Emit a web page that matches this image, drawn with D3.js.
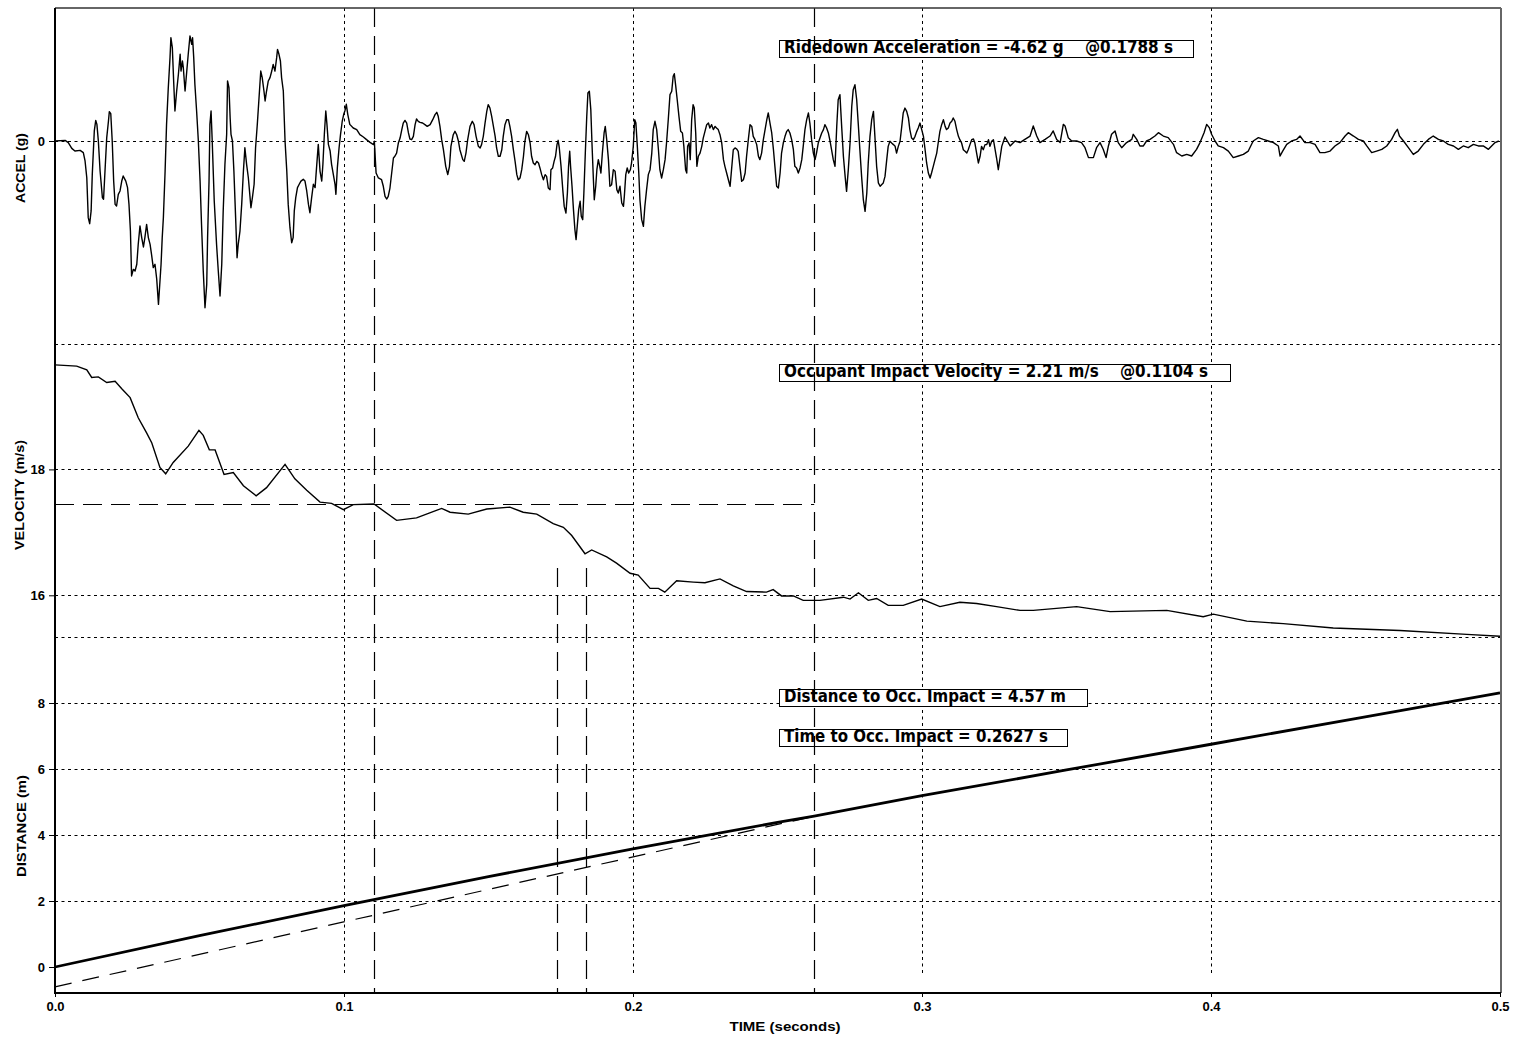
<!DOCTYPE html>
<html>
<head>
<meta charset="utf-8">
<script src="https://cdn.jsdelivr.net/npm/d3@7"></script>
<style>
  body { margin: 0; background: #fff; }
  svg { display: block; }
  text { font-family: "Liberation Sans", Arial, sans-serif; font-weight: bold; fill: #000; }
  .note { font-family: "Liberation Sans Narrow", "DejaVu Sans Condensed", "Liberation Sans", sans-serif; white-space: pre; }
</style>
</head>
<body>
<svg id="chart" width="1518" height="1037"></svg>
<script>
// ---- axis ticks and grid values ----
const timeTicks = [0, 0.1, 0.2, 0.3, 0.4, 0.5];
const timeGrid = [0.1, 0.2, 0.3, 0.4];
const accelGrid = [0];
const accelLabels = [0];
const velocityGrid = [20, 18, 16];
const velocityLabels = [18, 16];
const distanceGrid = [10, 8, 6, 4, 2];
const distanceLabels = [8, 6, 4, 2, 0];

// ---- computed results shown in the boxes ----
const ridedownAccel = -4.62;   // g
const ridedownTime = 0.1788;   // s (centre of 10 ms window)
const ridedownWindow = 0.010;  // s
const impactVelocity = 2.21;   // m/s
const impactVelocityTime = 0.1104; // s
const impactDistance = 4.57;   // m
const impactTime = 0.2627;     // s
const flailOffset = -0.6;      // m

// ---- vehicle acceleration, [time ms, g] ----
const accelTrace = [
[0,0],[3.5,0.05],[4.6,-0.12],[5.8,-0.55],[6.9,-0.75],[8.7,-0.70],[9.8,-0.87],[10.4,-1.49],[11.0,-2.74],[11.5,-5.72],[12.0,-6.17],[12.5,-5.22],[12.9,-2.49],[13.6,0.75],[14.1,1.54],[14.5,1.24],[15.0,0],[15.6,-2.24],[16.4,-4.23],[16.8,-4.35],[17.3,-2.24],[17.9,0.25],[18.5,1.49],[18.8,2.19],[19.3,2.04],[19.8,0],[20.3,-2.99],[20.8,-4.73],[21.3,-4.85],[21.9,-3.98],[22.5,-3.73],[23.1,-2.99],[23.6,-2.61],[24.5,-2.99],[25.1,-3.48],[25.6,-4.73],[26.1,-6.72],[26.5,-10.07],[27.1,-9.58],[27.7,-9.70],[28.3,-9.20],[28.8,-7.71],[29.4,-6.34],[30.0,-7.21],[30.6,-7.91],[31.1,-7.21],[31.7,-6.22],[32.3,-7.21],[32.9,-7.71],[33.4,-8.46],[34.0,-9.45],[34.6,-9.20],[35.2,-10.32],[35.8,-12.19],[36.1,-11.19],[36.7,-9.20],[37.1,-7.21],[37.5,-5.72],[38.1,-2.24],[38.6,1.24],[39.2,3.98],[39.8,6.22],[40.1,7.71],[40.6,6.97],[41.1,4.23],[41.5,2.24],[42.1,3.73],[42.7,4.98],[43.3,6.47],[43.6,5.22],[44.1,5.97],[44.4,5.47],[45.0,3.73],[45.6,5.22],[46.1,6.47],[46.7,7.84],[47.3,7.21],[47.6,7.71],[48.0,6.22],[48.4,4.23],[49.0,2.24],[49.6,0],[50.2,-2.99],[50.7,-6.22],[51.3,-9.70],[51.9,-12.44],[52.5,-10.70],[52.8,-7.21],[53.3,-2.99],[53.6,1.24],[54.0,2.24],[54.4,0],[55.1,-4.48],[55.9,-7.71],[56.5,-9.70],[57.1,-11.57],[57.7,-9.20],[58.2,-5.22],[58.8,-1.74],[59.4,0.50],[59.7,4.48],[60.2,3.98],[60.6,1.74],[60.9,0.50],[61.4,0],[61.9,-2.24],[62.5,-5.72],[63.0,-8.71],[63.4,-7.71],[64.0,-6.72],[64.6,-4.73],[65.2,-2.24],[65.7,-0.50],[66.3,-1.74],[66.9,-2.74],[67.5,-4.23],[67.8,-4.98],[68.3,-4.23],[68.9,-3.23],[69.4,-0.50],[70.0,1.24],[70.6,3.23],[71.2,5.22],[71.7,4.73],[72.3,3.73],[72.7,2.99],[73.2,3.73],[73.8,4.48],[74.4,4.73],[75.0,5.22],[75.5,5.72],[76.1,5.22],[76.7,6.22],[77.0,6.84],[77.5,6.47],[78.0,5.97],[78.4,4.73],[79.0,3.73],[79.6,0],[80.2,-2.24],[80.7,-4.73],[81.3,-6.47],[81.9,-7.59],[82.4,-7.21],[82.8,-5.22],[83.3,-4.23],[83.9,-3.48],[84.5,-3.23],[85.1,-2.99],[85.9,-2.86],[86.5,-2.99],[87.1,-3.73],[87.7,-4.73],[88.2,-5.35],[88.8,-4.23],[89.4,-3.23],[90.0,-3.48],[90.5,-1.99],[91.1,-0.25],[91.7,-2.24],[92.3,-2.99],[92.7,-1.74],[93.2,0.50],[93.7,2.24],[94.1,1.24],[94.6,-0.25],[95.2,-0.75],[95.7,-1.74],[96.3,-2.49],[96.9,-3.23],[97.2,-3.98],[97.7,-1.99],[98.3,-0.50],[98.8,0.50],[99.4,1.49],[99.9,1.99],[100.3,2.24],[100.8,2.74],[101.3,1.99],[102.0,1.24],
[103.2,0.97],[104.4,0.85],[105.5,0.47],[106.7,0.30],[107.8,0.10],[109.0,-0.10],[110.2,-0.27],[110.5,-0.02],[111.1,-2.39],[111.9,-2.76],[113.0,-2.89],[113.6,-3.38],[114.2,-4.13],[114.8,-4.33],[115.3,-4.13],[115.9,-3.51],[116.5,-2.39],[117.1,-1.27],[117.6,-1.14],[118.2,-0.90],[118.8,-0.15],[119.4,0.22],[120.0,0.85],[120.5,1.34],[121.1,1.54],[121.7,1.34],[122.3,0.60],[122.8,0.15],[123.4,0.10],[124.0,0.35],[124.6,1.22],[125.1,1.64],[125.7,1.47],[126.3,1.39],[127.2,1.34],[128.0,1.22],[128.8,1.09],[129.8,1.22],[130.7,1.59],[131.5,1.97],[132.1,2.14],[132.6,1.84],[133.2,1.09],[133.8,0.10],[134.4,-0.65],[135.2,-1.89],[135.9,-2.51],[136.5,-1.89],[137.0,-0.40],[137.8,0.47],[138.4,0.72],[139.0,0.47],[139.6,-0.02],[140.1,-0.65],[141.1,-1.39],[141.6,-1.52],[142.2,-0.90],[142.8,0.10],[143.6,1.09],[144.4,1.47],[145.0,1.22],[145.7,0.35],[146.5,-0.40],[147.1,-0.52],[147.6,-0.27],[148.2,0.35],[148.8,1.34],[149.4,2.21],[149.9,2.71],[150.5,2.46],[151.1,1.84],[151.7,1.09],[152.3,0.35],[152.8,-0.52],[153.4,-1.14],[154.0,-1.14],[154.6,-0.65],[155.1,0.35],[155.7,1.22],[156.3,1.59],[156.9,1.59],[157.4,1.09],[158.0,0.35],[158.6,-0.65],[159.2,-1.52],[159.8,-2.51],[160.3,-2.89],[160.9,-2.76],[161.5,-2.14],[162.1,-1.14],[162.6,-0.02],[163.2,0.72],[163.8,0.47],[164.4,-0.15],[164.9,-1.14],[165.5,-1.64],[166.1,-1.77],[166.7,-1.52],[167.3,-1.64],[167.8,-2.01],[168.4,-2.51],[169.0,-2.89],[169.6,-2.51],[170.1,-2.64],[170.7,-3.51],[171.3,-3.63],[171.6,-2.14],[172.2,-2.01],[172.7,-1.52],[173.2,-1.14],[173.7,-0.27],[174.1,0.05],[174.5,-0.52],[175.1,-1.89],[175.7,-3.63],[176.2,-4.88],[176.8,-5.37],[177.3,-3.88],[177.7,-1.89],[178.1,-0.77],[178.4,-1.89],[178.9,-3.38],[179.4,-5.12],[179.9,-6.62],[180.3,-7.36],[180.7,-6.37],[181.2,-5.12],[181.7,-4.50],[182.1,-5.62],[182.6,-5.87],[183.0,-3.88],[183.5,-0.90],[184.0,1.84],[184.4,3.58],[184.9,3.71],[185.4,2.34],[185.8,-0.15],[186.3,-2.89],[186.6,-4.38],[187.1,-3.38],[187.5,-2.14],[188.0,-1.39],[188.5,-1.89],[188.9,-2.39],[189.4,-0.90],[190.0,0.60],[190.4,1.09],[190.9,0.10],[191.5,-1.39],[192.0,-3.38],[192.6,-3.26],[193.2,-2.14],[193.8,-2.26],[194.4,-3.63],[194.9,-3.88],[195.5,-3.38],[196.1,-4.63],[196.7,-4.88],[197.0,-4.13],[197.5,-2.51],[198.0,-2.01],[198.5,-2.39],[199.1,-2.14],[199.5,-1.64],[200.1,-0.40],[200.6,1.59],[201.0,1.34],[201.5,-0.40],[202.0,-2.39],[202.4,-4.38],[203.0,-5.87],[203.6,-6.37],[204.1,-4.88],[204.7,-3.63],[205.3,-2.51],[205.9,-2.14],
[206.5,-0.90],[207.0,0.85],[207.6,1.47],[208.2,0.85],[208.8,-0.65],[209.3,-2.14],[209.9,-2.76],[210.5,-2.14],[211.1,-1.39],[211.6,-0.15],[212.2,1.59],[212.8,3.46],[213.4,3.71],[213.9,4.83],[214.3,5.02],[214.8,4.08],[215.3,3.08],[215.9,1.84],[216.5,0.72],[217.1,0.60],[217.6,-0.40],[218.2,-2.14],[218.6,-2.39],[218.9,-0.40],[219.4,-0.15],[219.8,-1.39],[220.3,1.59],[220.8,2.71],[221.2,2.46],[221.7,0.60],[222.1,-1.89],[222.6,-1.14],[223.2,-0.90],[223.8,-0.40],[224.3,0.22],[224.9,0.72],[225.5,1.22],[226.1,1.34],[226.6,0.97],[227.2,1.22],[227.8,0.85],[228.4,1.09],[228.9,0.97],[229.5,0.85],[230.1,0.47],[230.7,-0.15],[231.3,-1.39],[231.8,-1.89],[232.4,-2.39],[233.0,-2.89],[233.6,-3.38],[234.1,-2.14],[234.7,-0.65],[235.3,-0.52],[235.9,-0.60],[236.4,-0.77],[237.0,-1.89],[237.6,-3.01],[238.2,-2.89],[238.8,-2.39],[239.3,-1.14],[239.9,0.10],[240.5,1.22],[241.1,1.09],[241.6,0.35],[242.2,0.10],[242.8,-0.27],[243.4,-1.14],[243.9,-1.39],[244.5,-0.90],[245.1,0.10],[245.7,0.85],[246.3,1.59],[246.8,2.09],[247.4,1.34],[248.0,0.60],[248.6,-0.65],[249.1,-1.89],[249.7,-3.38],[250.3,-3.51],[250.9,-2.39],[251.4,-0.90],[252.0,-0.15],[252.6,0.35],[253.2,0.72],[253.7,0.85],[254.3,0.60],[254.9,0.10],[255.5,-0.65],[256.0,-1.89],[256.6,-2.01],[257.2,-2.39],[257.8,-2.01],[258.4,-1.39],[258.9,-0.40],[259.5,0.85],[260.1,1.59],[260.7,2.09],[261.2,1.34],[261.8,0.10],[262.4,-0.90],[263.0,-1.39],[263.5,-0.90],[264.1,-0.15],[264.7,0.22],[265.3,0.60],[265.9,0.85],[266.4,1.22],[267.0,0.97],[267.6,0.60],[268.2,-0.02],[268.7,-0.65],[269.3,-1.39],[269.9,-1.89],[270.5,1.09],[271.0,3.08],[271.6,3.46],[272.2,1.09],[272.8,-1.14],[273.4,-2.64],[273.9,-3.76],[274.5,-2.14],[275.1,-0.15],[275.7,2.59],[276.2,3.83],[276.8,4.20],[277.4,3.08],[278.0,1.09],[278.5,-0.65],[279.1,-2.64],[279.7,-4.38],[280.3,-5.25],[280.9,-3.88],[281.4,-1.64],[282.0,0.35],[282.6,1.59],[283.2,2.21],[283.7,0.35],[284.3,-1.89],[284.9,-3.13],[285.5,-3.38],[286.0,-3.26],[286.6,-3.13],[287.2,-2.64],[287.8,-1.39],[288.3,-0.40],[288.9,-0.02],[289.5,-0.15],[290.1,-0.27],[290.7,-0.40],[291.2,-0.90],[291.8,-0.40],[292.4,-0.02],[293.0,1.09],[293.5,2.09],[294.1,2.46],[294.7,2.21],[295.3,1.72],[295.8,0.85],[296.4,0.22],[297.0,0.10],[297.6,0.35],[298.2,0.72],[298.7,0.97],[299.3,1.34],[299.9,0.85],[300.5,0.35],[301.0,-0.52],[301.6,-1.64],[302.2,-2.39],[302.8,-2.76],[303.3,-2.39],[303.9,-1.89],[304.5,-1.39],[305.1,-0.90],[305.6,-0.15],[306.2,0.72],[306.8,1.22],[307.4,1.59],[308.0,1.09],[308.5,0.85],[309.1,0.97],[309.7,1.34],[310.3,1.47],[310.8,1.72],[311.4,1.47],[312.0,0.85],[312.6,0.35],[313.1,0.10],[313.7,-0.15],[314.3,-0.65],[314.9,-0.77],[315.5,-0.90],[316.0,-0.65],[316.6,-0.27],[317.2,0.10],[317.8,0.15],[318.3,-0.15],[318.9,-0.90],[319.5,-1.64],[320.1,-1.14],[320.6,-0.40],[321.2,-0.65],[321.8,-0.27],[322.4,-0.27],[323.0,0.10],[323.5,-0.40],[324.1,-0.02],[324.7,0.10],[325.3,-0.65],[325.8,-1.27],[326.4,-2.14],[327.0,-1.27],[327.6,-0.40],[328.7,0.30],
[330.5,-0.37],[332.2,0],[333.9,-0.12],[335.6,0.12],[337.4,0.37],[338.5,1.12],[339.7,0.37],[340.8,-0.12],[342.6,0.12],[344.3,0.37],[345.4,0.75],[346.6,0.12],[347.8,-0.12],[348.9,1.24],[349.5,1.12],[350.6,0.25],[351.8,0],[353.5,0],[355.2,-0.12],[356.4,-0.50],[357.6,-1.24],[359.3,-1.24],[360.4,-0.50],[361.6,-0.12],[362.7,-0.62],[363.7,-1.24],[364.5,-0.37],[365.6,0.50],[366.8,0.75],[367.9,-0.12],[369.1,-0.50],[370.8,-0.12],[372.6,0.12],[373.1,0.50],[374.3,0.12],[375.4,-0.37],[376.6,-0.37],[377.7,0],[378.9,0.12],[380.6,0.37],[381.8,0.62],[383.5,0.37],[385.2,0.25],[387.0,-0.25],[388.1,-0.87],[389.9,-1.12],[391.6,-1.00],[393.3,-1.12],[395.0,-0.62],[396.2,-0.12],[397.6,0.62],[398.5,1.24],[399.4,1.00],[400.2,0.50],[401.4,0],[402.5,-0.37],[404.3,-0.50],[406.0,-0.75],[407.7,-1.24],[409.5,-1.12],[411.2,-1.00],[412.9,-0.75],[414.6,0],[416.4,0.25],[418.1,0.12],[419.8,0],[421.6,-0.12],[423.3,-0.37],[423.9,-1.12],[424.8,-0.75],[426.2,-0.25],[427.9,0],[429.6,0.12],[430.8,0.37],[432.5,-0.12],[434.3,-0.12],[436.0,-0.25],[437.7,-0.87],[439.4,-0.87],[441.2,-0.75],[442.9,-0.37],[444.6,-0.12],[446.4,0.37],[447.5,0.62],[449.3,0.37],[451.0,0.12],[452.7,0],[453.9,-0.37],[455.6,-0.87],[457.3,-0.75],[459.1,-0.62],[460.8,-0.37],[462.5,0.12],[463.7,0.62],[464.5,0.87],[465.2,0.37],[466.6,0],[468.3,-0.50],[470.0,-1.00],[471.7,-0.75],[473.5,-0.25],[475.2,0.12],[476.9,0.37],[478.7,0.12],[480.4,0],[482.1,-0.25],[483.9,-0.37],[485.6,-0.62],[487.3,-0.37],[489.0,-0.50],[490.8,-0.25],[492.5,-0.37],[494.2,-0.37],[496.0,-0.62],[497.1,-0.37],[498.3,-0.12],[499.6,0]
];

// ---- vehicle velocity, [time s, m/s] ----
const velocityTrace = [
[0,19.66],[0.0075,19.64],[0.011,19.58],[0.0127,19.46],[0.015,19.47],[0.0179,19.38],[0.0208,19.40],[0.0231,19.28],[0.026,19.14],[0.0288,18.82],[0.0317,18.58],[0.0335,18.42],[0.0363,18.03],[0.0383,17.93],[0.0409,18.11],[0.0461,18.37],[0.0498,18.62],[0.0513,18.54],[0.0534,18.31],[0.0554,18.31],[0.0585,17.92],[0.0617,17.95],[0.0652,17.74],[0.0696,17.58],[0.0732,17.71],[0.0796,18.08],[0.083,17.85],[0.0871,17.67],[0.0917,17.48],[0.0957,17.46],[0.0998,17.36],[0.1032,17.44],[0.1104,17.45],[0.1182,17.19],[0.1251,17.23],[0.1338,17.38],[0.1367,17.32],[0.143,17.29],[0.1494,17.37],[0.1574,17.40],[0.162,17.32],[0.1667,17.29],[0.1724,17.14],[0.1759,17.08],[0.1788,16.95],[0.1834,16.66],[0.1857,16.72],[0.1909,16.61],[0.1943,16.51],[0.199,16.35],[0.2018,16.32],[0.2059,16.11],[0.2088,16.11],[0.211,16.05],[0.2151,16.23],[0.2209,16.21],[0.2249,16.20],[0.2301,16.26],[0.2347,16.15],[0.2393,16.06],[0.2462,16.05],[0.2485,16.09],[0.2514,15.99],[0.2555,15.99],[0.2589,15.92],[0.2647,15.92],[0.2728,15.97],[0.2751,15.94],[0.278,16.04],[0.2814,15.92],[0.2843,15.95],[0.2883,15.84],[0.2935,15.84],[0.2999,15.94],[0.3062,15.82],[0.3131,15.89],[0.3189,15.87],[0.3258,15.82],[0.3339,15.76],[0.3385,15.76],[0.3535,15.82],[0.3651,15.74],[0.3847,15.76],[0.3973,15.66],[0.4008,15.70],[0.4124,15.59],[0.425,15.55],[0.4423,15.48],[0.4654,15.44],[0.4885,15.38],[0.5,15.35]
];

// ---- vehicle displacement, [time s, m] ----
const distanceTrace = [
[0,0],[0.05,0.95],[0.1,1.86],[0.15,2.74],[0.2,3.58],[0.25,4.38],[0.2627,4.57],[0.3,5.19],[0.35,5.97],[0.4,6.75],[0.45,7.53],[0.5,8.31]
];

// ---- free occupant displacement, offset by the flail distance, [time s, m] ----
const occupantTrace = [[0, flailOffset], [impactTime, impactDistance]];

// ---- layout ----
const plotL = 55, plotR = 1501, plotT = 8, plotB = 993;
const gridEnd = 973;
const windowTop = 568;

const svg = d3.select("#chart");

const x = d3.scaleLinear().domain([0, 0.5]).range([plotL, 1500]);
const yA = d3.scaleLinear().domain([-15, 10]).range([342, 7]);
const yV = d3.scaleLinear().domain([16, 20]).range([595.3, 343.5]);
const yD = d3.scaleLinear().domain([0, 10]).range([967, 637]);

const dotted = "3,3.5";
const longDash = "19,9";
const px = v => Math.round(v) + 0.5;

// grid
const grid = svg.append("g").attr("stroke", "#000").attr("stroke-width", 1).attr("stroke-dasharray", dotted).attr("fill", "none");
grid.selectAll("line.v").data(timeGrid).join("line")
  .attr("x1", d => px(x(d))).attr("x2", d => px(x(d)))
  .attr("y1", plotT).attr("y2", gridEnd);
const hLines = [
  ...accelGrid.map(d => yA(d)),
  ...velocityGrid.map(d => yV(d)),
  ...distanceGrid.map(d => yD(d))
];
grid.selectAll("line.h").data(hLines).join("line")
  .attr("x1", plotL).attr("x2", plotR)
  .attr("y1", d => px(d)).attr("y2", d => px(d));

// annotation boxes (white fill hides the grid underneath)
const notes = [
  { text: `Ridedown Acceleration = ${ridedownAccel.toFixed(2)} g    @${ridedownTime.toFixed(4)} s`, top: 40, w: 414, len: 389 },
  { text: `Occupant Impact Velocity = ${impactVelocity.toFixed(2)} m/s    @${impactVelocityTime.toFixed(4)} s`, top: 364, w: 451, len: 424 },
  { text: `Distance to Occ. Impact = ${impactDistance.toFixed(2)} m`, top: 689, w: 308, len: 282 },
  { text: `Time to Occ. Impact = ${impactTime.toFixed(4)} s`, top: 729, w: 288, len: 264 }
];
const boxLeft = 779;
svg.append("g").selectAll("rect").data(notes).join("rect")
  .attr("x", boxLeft + 0.5).attr("y", d => d.top + 0.5)
  .attr("width", d => d.w).attr("height", 17)
  .attr("fill", "#fff").attr("stroke", "#000").attr("stroke-width", 1);

// traces
const accelLine = d3.line().x(d => x(d[0] / 1000)).y(d => yA(d[1]));
svg.append("path").datum(accelTrace).attr("d", accelLine)
  .attr("fill", "none").attr("stroke", "#000").attr("stroke-width", 1.4).attr("stroke-linejoin", "round");

const velLine = d3.line().x(d => x(d[0])).y(d => yV(d[1]));
svg.append("path").datum(velocityTrace).attr("d", velLine)
  .attr("fill", "none").attr("stroke", "#000").attr("stroke-width", 1.4);

const distLine = d3.line().x(d => x(d[0])).y(d => yD(d[1]));
svg.append("path").datum(occupantTrace).attr("d", distLine)
  .attr("fill", "none").attr("stroke", "#000").attr("stroke-width", 1.2).attr("stroke-dasharray", "17,11");
svg.append("path").datum(distanceTrace).attr("d", distLine)
  .attr("fill", "none").attr("stroke", "#000").attr("stroke-width", 2.8);

// event markers
const markers = svg.append("g").attr("stroke", "#000").attr("stroke-width", 1.2).attr("stroke-dasharray", longDash);
markers.selectAll("line.full").data([impactVelocityTime, impactTime]).join("line")
  .attr("x1", d => px(x(d))).attr("x2", d => px(x(d)))
  .attr("y1", plotT).attr("y2", plotB);
markers.selectAll("line.win").data([ridedownTime - ridedownWindow / 2, ridedownTime + ridedownWindow / 2]).join("line")
  .attr("x1", d => px(x(d))).attr("x2", d => px(x(d)))
  .attr("y1", windowTop).attr("y2", plotB);
const vAtImpact = velocityTrace[0][1] - impactVelocity;
markers.append("line")
  .attr("x1", plotL).attr("x2", x(impactTime))
  .attr("y1", px(yV(vAtImpact))).attr("y2", px(yV(vAtImpact)));

// annotation text
svg.append("g").selectAll("text").data(notes).join("text")
  .attr("class", "note")
  .attr("x", boxLeft + 5).attr("y", d => d.top + 12.5)
  .attr("font-size", 17)
  .attr("textLength", d => d.len).attr("lengthAdjust", "spacingAndGlyphs")
  .text(d => d.text);

// frame
svg.append("line").attr("x1", plotL).attr("x2", plotR).attr("y1", plotT).attr("y2", plotT).attr("stroke", "#333").attr("stroke-width", 1.5);
svg.append("line").attr("x1", plotR).attr("x2", plotR).attr("y1", plotT).attr("y2", plotB).attr("stroke", "#666").attr("stroke-width", 2);
svg.append("line").attr("x1", plotL).attr("x2", plotL).attr("y1", plotT).attr("y2", plotB + 1).attr("stroke", "#000").attr("stroke-width", 2);

// time axis
const xAxis = d3.axisBottom(x).tickValues(timeTicks).tickFormat(d3.format(".1f")).tickSize(4).tickPadding(5);
const gx = svg.append("g").attr("transform", `translate(0,${plotB})`).call(xAxis);
gx.select(".domain").attr("stroke-width", 2).attr("d", `M${plotL},0H${plotR}`);
gx.selectAll("text").attr("font-size", 13).attr("font-family", "Liberation Sans, Arial, sans-serif").attr("font-weight", "bold");

// value axes (labels + short ticks only)
function valueAxis(scale, values) {
  const g = svg.append("g").attr("transform", `translate(${plotL},0)`)
    .call(d3.axisLeft(scale).tickValues(values).tickFormat(d3.format("d")).tickSize(6).tickPadding(4));
  g.select(".domain").remove();
  g.selectAll("text").attr("font-size", 13).attr("font-family", "Liberation Sans, Arial, sans-serif").attr("font-weight", "bold");
}
valueAxis(yA, accelLabels);
valueAxis(yV, velocityLabels);
valueAxis(yD, distanceLabels);

// axis titles
const titles = [
  { text: "ACCEL (g)", cx: 20.5, cy: 168, len: 70 },
  { text: "VELOCITY (m/s)", cx: 19, cy: 495, len: 110 },
  { text: "DISTANCE (m)", cx: 21.5, cy: 826, len: 102 }
];
svg.append("g").selectAll("text").data(titles).join("text")
  .attr("transform", d => `translate(${d.cx},${d.cy}) rotate(-90)`)
  .attr("text-anchor", "middle").attr("dy", "0.36em")
  .attr("font-size", 13)
  .attr("textLength", d => d.len).attr("lengthAdjust", "spacingAndGlyphs")
  .text(d => d.text);
svg.append("text").attr("x", 785).attr("y", 1031).attr("text-anchor", "middle")
  .attr("font-size", 13).attr("textLength", 111).attr("lengthAdjust", "spacingAndGlyphs")
  .text("TIME (seconds)");
</script>
</body>
</html>
